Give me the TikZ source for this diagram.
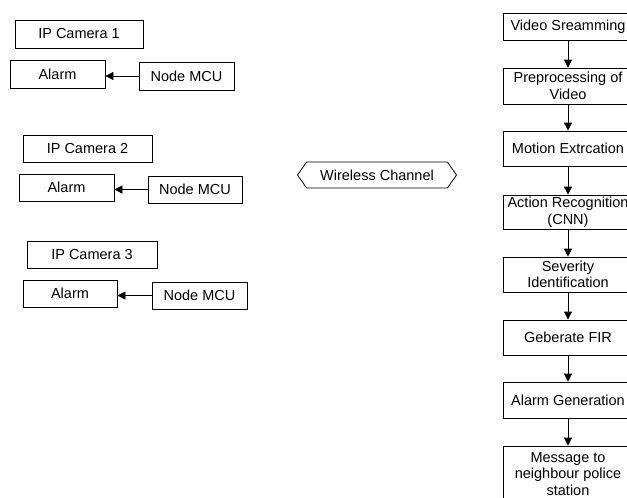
\documentclass[tikz,border=0pt]{standalone}
\usepackage{fontspec}
\setmainfont{Liberation Sans}
\usetikzlibrary{arrows.meta,shapes.symbols}
\tikzset{
  box/.style={draw, rectangle, line width=0.8pt, inner sep=0pt, align=center,
    font=\fontsize{14.5}{16.5}\selectfont},
  arr/.style={-{Triangle[length=8pt,width=8pt]}, line width=0.8pt}
}
\begin{document}
\begin{tikzpicture}[x=1pt,y=-1pt]
\useasboundingbox (0,0) rectangle (627,498);
\node[box, minimum width=128pt, minimum height=28pt] (cam1) at (79,34) {IP Camera 1};
\node[box, minimum width=95pt, minimum height=28pt] (alarm1) at (57.5,74) {Alarm};
\node[box, minimum width=95pt, minimum height=28pt] (mcu1) at (186.5,76) {Node MCU};
\node[box, minimum width=129pt, minimum height=27pt] (cam2) at (87.5,148.5) {IP Camera 2};
\node[box, minimum width=95pt, minimum height=27pt] (alarm2) at (66.5,187.5) {Alarm};
\node[box, minimum width=94pt, minimum height=27pt] (mcu2) at (195,189.5) {Node MCU};
\node[box, minimum width=130pt, minimum height=27pt] (cam3) at (92,254.5) {IP Camera 3};
\node[box, minimum width=94pt, minimum height=27pt] (alarm3) at (70,293.5) {Alarm};
\node[box, minimum width=95pt, minimum height=27pt] (mcu3) at (199.5,295.5) {Node MCU};
\draw[arr] (mcu1.west) -- (mcu1.west -| alarm1.east);
\draw[arr] (mcu2.west) -- (mcu2.west -| alarm2.east);
\draw[arr] (mcu3.west) -- (mcu3.west -| alarm3.east);
\node[box, shape=signal, signal to=west and east, signal pointer angle=110,
  minimum width=159pt, minimum height=26pt] (wireless) at (377,175) {Wireless Channel};
\node[box, minimum width=130pt, minimum height=27pt] (s1) at (568,26.5) {Video Sreamming};
\node[box, minimum width=130pt, minimum height=36pt] (s2) at (568,86) {Preprocessing of\\Video};
\node[box, minimum width=130pt, minimum height=35pt] (s3) at (568,148.5) {Motion Extrcation};
\node[box, minimum width=130pt, minimum height=34pt] (s4) at (568,212) {Action Recognition\\(CNN)};
\node[box, minimum width=130pt, minimum height=35pt] (s5) at (568,274.5) {Severity\\Identification};
\node[box, minimum width=130pt, minimum height=35pt] (s6) at (568,337.5) {Geberate FIR};
\node[box, minimum width=130pt, minimum height=36pt] (s7) at (568,400) {Alarm Generation};
\node[box, minimum width=130pt, minimum height=56pt] (s8) at (568,474) {Message to\\neighbour police\\station};
\foreach \a/\b in {s1/s2,s2/s3,s3/s4,s4/s5,s5/s6,s6/s7,s7/s8}
  \draw[arr] (\a) -- (\b);
\end{tikzpicture}
\end{document}
